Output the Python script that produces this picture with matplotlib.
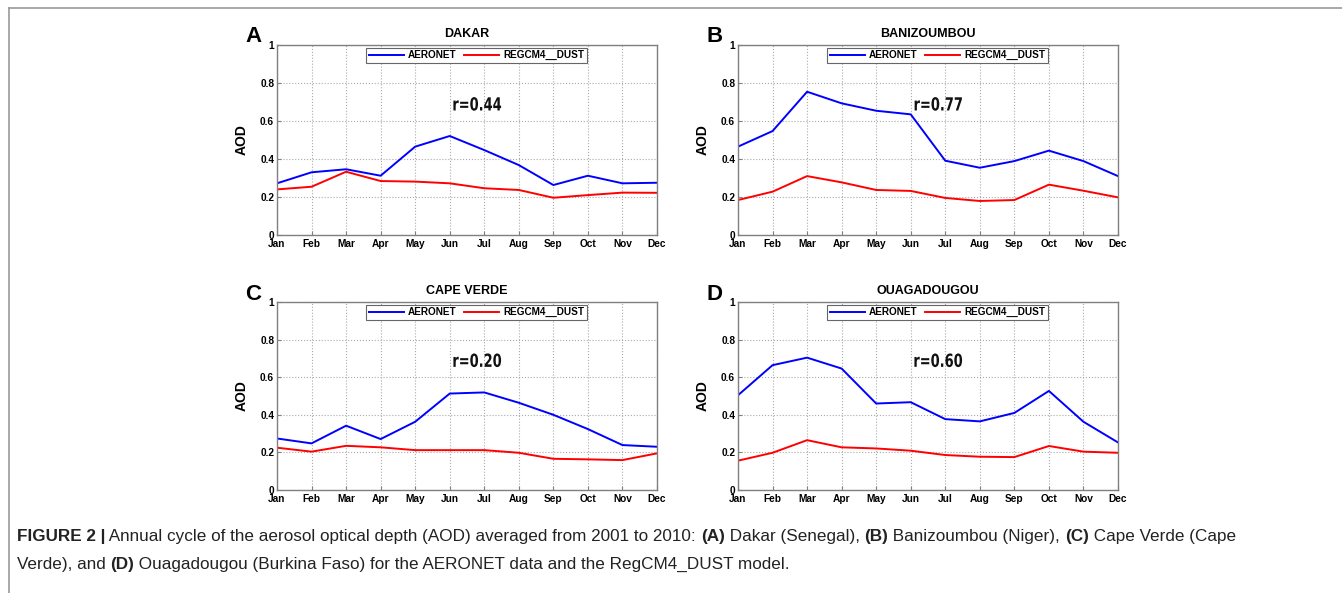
import numpy as np
import matplotlib
matplotlib.use('Agg')
import matplotlib.pyplot as plt
from matplotlib.lines import Line2D
from matplotlib.textpath import TextPath
from matplotlib.patches import PathPatch
from matplotlib.font_manager import FontProperties
from matplotlib.transforms import Affine2D

# ---------------- data ----------------
months = ['Jan', 'Feb', 'Mar', 'Apr', 'May', 'Jun', 'Jul', 'Aug', 'Sep', 'Oct', 'Nov', 'Dec']
stations = ['DAKAR', 'BANIZOUMBOU', 'CAPE VERDE', 'OUAGADOUGOU']
panel_letters = ['A', 'B', 'C', 'D']
r_values = ['r=0.44', 'r=0.77', 'r=0.20', 'r=0.60']

aeronet_dakar = [0.272, 0.330, 0.346, 0.312, 0.465, 0.521, 0.447, 0.368, 0.263, 0.312, 0.272, 0.275]
regcm_dakar = [0.240, 0.254, 0.333, 0.284, 0.281, 0.272, 0.246, 0.237, 0.196, 0.210, 0.223, 0.222]

aeronet_bani = [0.465, 0.547, 0.754, 0.693, 0.654, 0.635, 0.391, 0.354, 0.389, 0.444, 0.389, 0.310]
regcm_bani = [0.184, 0.228, 0.310, 0.277, 0.237, 0.232, 0.195, 0.179, 0.184, 0.265, 0.233, 0.198]

aeronet_cape = [0.274, 0.248, 0.342, 0.271, 0.363, 0.513, 0.519, 0.464, 0.400, 0.324, 0.239, 0.230]
regcm_cape = [0.225, 0.204, 0.235, 0.227, 0.212, 0.212, 0.212, 0.198, 0.166, 0.163, 0.159, 0.195]

aeronet_ouaga = [0.504, 0.664, 0.704, 0.646, 0.460, 0.467, 0.377, 0.365, 0.410, 0.527, 0.363, 0.253]
regcm_ouaga = [0.156, 0.198, 0.265, 0.227, 0.221, 0.209, 0.186, 0.177, 0.175, 0.234, 0.204, 0.198]

aeronet_all = [aeronet_dakar, aeronet_bani, aeronet_cape, aeronet_ouaga]
regcm_all = [regcm_dakar, regcm_bani, regcm_cape, regcm_ouaga]

# ---------------- figure ----------------
W, H = 1342, 593
fig = plt.figure(figsize=(W / 100, H / 100), dpi=100)
plt.rcParams['font.family'] = ['Liberation Sans', 'DejaVu Sans']

# axes boxes in pixels: left, top, right, bottom
boxes = [(277, 45, 657, 235), (738, 45, 1118, 235),
         (277, 302, 657, 490), (738, 302, 1118, 490)]

r_prop = FontProperties(family='DejaVu Sans', weight='bold')

x = np.arange(len(months))
for i in range(4):
	l, t, r, b = boxes[i]
	ax = fig.add_axes([l / W, 1 - b / H, (r - l) / W, (b - t) / H])
	ax.plot(x, aeronet_all[i], color='#0000ff', lw=1.4, label='AERONET')
	ax.plot(x, regcm_all[i], color='#ff0000', lw=1.4, label='REGCM4__DUST')
	ax.set_xlim(0, 11)
	ax.set_ylim(0, 1)
	ax.set_xticks(x)
	ax.set_xticklabels(months, fontsize=7.3, fontweight='bold')
	ax.set_yticks([0, 0.2, 0.4, 0.6, 0.8, 1])
	ax.set_yticklabels(['0', '0.2', '0.4', '0.6', '0.8', '1'], fontsize=7.3, fontweight='bold')
	ax.tick_params(direction='in', length=3, width=0.8, color='#808080', pad=2)
	ax.tick_params(axis='x', pad=3)
	ax.grid(True, linestyle=':', color='#aaaaaa', lw=0.8)
	for s in ax.spines.values():
		s.set_color('#808080')
		s.set_linewidth(1.0)
	ax.set_ylabel('AOD', fontsize=10, fontweight='bold', labelpad=8)
	ax.set_title(stations[i], fontsize=9, fontweight='bold', pad=6)
	leg = ax.legend(loc='upper center', bbox_to_anchor=(0.525, 1), ncol=2,
		prop={'size': 7.2, 'weight': 'bold'},
		fancybox=False, edgecolor='#666666', borderpad=0.25, handlelength=3.5,
		columnspacing=0.8, handletextpad=0.4, borderaxespad=0.25, framealpha=1)
	leg.get_frame().set_linewidth(0.8)

	# condensed bold correlation label, drawn as a squeezed text path
	tp = TextPath((0, 0), r_values[i], size=13, prop=r_prop)
	ext = tp.get_extents()
	cx = l + 0.527 * (r - l)
	cy = b - 0.69 * (b - t)
	sx = 0.72
	tr = (Affine2D().translate(-(ext.x0 + ext.x1) / 2, -(ext.y0 + ext.y1) / 2)
		.scale(sx, 1.0).scale(1 / 72.0)
		.translate(cx / 100.0, (H - cy) / 100.0) + fig.dpi_scale_trans)
	fig.add_artist(PathPatch(tp, transform=tr, facecolor='#111111', edgecolor='none'))

	fig.text((l - 32) / W, 1 - (t - 8) / H, panel_letters[i], fontsize=16,
		fontweight='bold', ha='left', va='center')

# thin frame lines (top + left)
fig.add_artist(Line2D([9 / W, 1], [1 - 8 / H, 1 - 8 / H], color='#999999', lw=1.2))
fig.add_artist(Line2D([9 / W, 9 / W], [0, 1 - 8 / H], color='#999999', lw=1.2))

# caption with mixed bold / normal runs
cap_size = 12.3
lines = [
	[('FIGURE 2 |', 'bold'), (' Annual cycle of the aerosol optical depth (AOD) averaged from 2001 to 2010: ', 'normal'),
	 ('(A)', 'bold'), (' Dakar (Senegal), ', 'normal'), ('(B)', 'bold'), (' Banizoumbou (Niger), ', 'normal'),
	 ('(C)', 'bold'), (' Cape Verde (Cape', 'normal')],
	[('Verde), and ', 'normal'), ('(D)', 'bold'),
	 (' Ouagadougou (Burkina Faso) for the AERONET data and the RegCM4_DUST model.', 'normal')],
]
line_y = [541, 569]
run_texts = []
for k in range(2):
	row = []
	for txt, wt in lines[k]:
		row.append(fig.text(17 / W, 1 - line_y[k] / H, txt, fontsize=cap_size, fontweight=wt,
			ha='left', va='baseline', color='#222222'))
	run_texts.append(row)

# place each run right after the previous one
fig.canvas.draw()
renderer = fig.canvas.get_renderer()
for k in range(2):
	x_px = 17
	for t in run_texts[k]:
		t.set_position((x_px / W, 1 - line_y[k] / H))
		x_px += t.get_window_extent(renderer).width

fig.savefig('out.png', dpi=100)
